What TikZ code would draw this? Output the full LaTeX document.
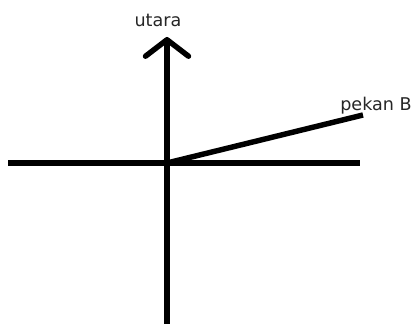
\documentclass[tikz,border=0pt]{standalone}
\usepackage{fontspec}
\setmainfont{DejaVu Sans}
\usetikzlibrary{arrows.meta}

\begin{document}
\begin{tikzpicture}[
    x=0.02cm, y=-0.02cm,
    axis/.style={line width=3.1pt, black},
    label/.style={font=\fontsize{10}{12}\selectfont, text=black!85, inner sep=0pt},
]

\useasboundingbox (0,0) rectangle (413,324);

% axes
\coordinate (o) at (167,163);
\coordinate (w) at (8,163);
\coordinate (e) at (360,163);
\coordinate (s) at (167,324);
\coordinate (n) at (167,37);
\draw[axis] (w) -- (e);
\draw[axis, -{Straight Barb[length=0.33cm, width=0.86cm, line cap=round, line join=round]}] (s) -- (n);
\node[label] (utara) at (158,20) {utara};

% direction to pekan B
\coordinate (b) at (363,115);
\draw[axis] (o) -- (b);
\node[label] (pekanb) at (376,106) {pekan B};

\end{tikzpicture}
\end{document}
